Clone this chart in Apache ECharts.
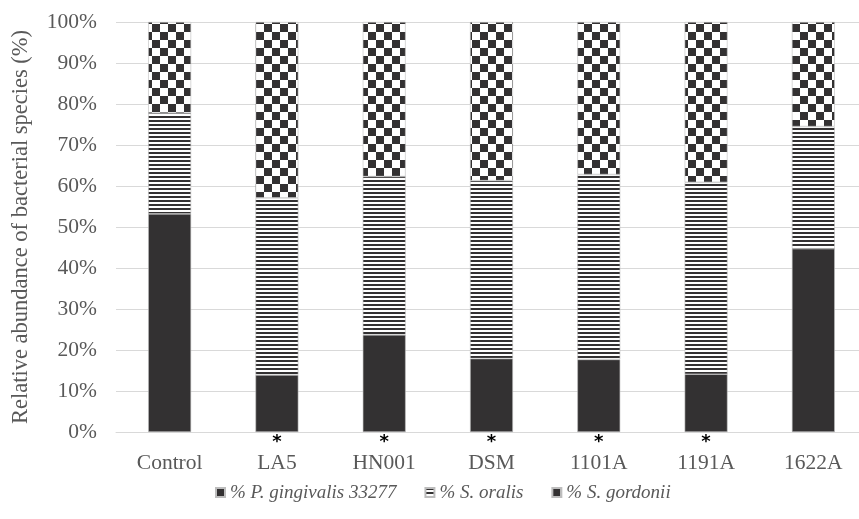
<!DOCTYPE html>
<html><head><meta charset="utf-8">
<script src="https://cdn.jsdelivr.net/npm/echarts@6/dist/echarts.min.js"></script>
<style>html,body{margin:0;padding:0;background:#fff;overflow:hidden}#c{width:880px;height:519px}</style>
</head><body><div id="c"></div>
<script>
const categories = ['Control','LA5','HN001','DSM','1101A','1191A','1622A'];
const significant = [false,true,true,true,true,true,false];
const pGingivalis = [53.2,13.9,23.7,17.9,17.7,14.1,44.7];
const sOralis = [24.6,43.2,38.6,43.4,45.1,46.8,29.8];
const sGordonii = [22.2,42.9,37.7,38.7,37.2,39.1,25.5];
const seriesNames = ['% P. gingivalis 33277','% S. oralis','% S. gordonii'];

const DARK = '#333132';
function checker(){
  const c=document.createElement('canvas');c.width=16;c.height=16;
  const g=c.getContext('2d');g.fillStyle='#fff';g.fillRect(0,0,16,16);
  g.fillStyle=DARK;g.fillRect(0,0,8,8);g.fillRect(8,8,8,8);return c;
}
function stripes(){
  const c=document.createElement('canvas');c.width=4;c.height=4;
  const g=c.getContext('2d');g.fillStyle='#fff';g.fillRect(0,0,4,4);
  g.fillStyle=DARK;g.fillRect(0,0,4,2);return c;
}
const fills=[DARK,{image:stripes(),repeat:'repeat'},{image:checker(),repeat:'repeat'}];
const dataSets=[pGingivalis,sOralis,sGordonii];

const chart=echarts.init(document.getElementById('c'),null,{renderer:'canvas'});
const font='"Liberation Serif","Times New Roman",serif';
chart.setOption({
  animation:false,
  textStyle:{fontFamily:font},
  grid:{left:116,top:22,width:751,height:410,containLabel:false},
  legend:{
    top:478,left:210,itemWidth:9,itemHeight:9,itemGap:28,icon:'rect',
    textStyle:{fontFamily:font,fontStyle:'italic',fontSize:19,color:'#595959'},
    data:seriesNames
  },
  xAxis:{
    type:'category',data:categories,
    axisLine:{lineStyle:{color:'#d9d9d9',width:1}},
    axisTick:{show:false},
    axisLabel:{
      margin:2,interval:0,
      formatter:function(v,i){return (significant[i]?'{star|*}':'{star| }')+'\n{name|'+v+'}';},
      rich:{
        star:{fontSize:18,fontWeight:'bold',color:'#000',lineHeight:16,fontFamily:'DejaVu Sans'},
        name:{fontSize:21.5,color:'#595959',lineHeight:26,fontFamily:font}
      }
    }
  },
  yAxis:{
    type:'value',min:0,max:100,interval:10,
    name:'Relative abundance of bacterial species (%)',
    nameLocation:'middle',nameGap:83,nameRotate:90,
    nameTextStyle:{fontSize:22.5,color:'#595959',fontFamily:font},
    axisLabel:{formatter:'{value}%',fontSize:21.5,color:'#595959',margin:19,fontFamily:font},
    splitLine:{lineStyle:{color:'#d9d9d9',width:1}},
    axisLine:{show:false},axisTick:{show:false}
  },
  series:dataSets.map((d,i)=>({
    name:seriesNames[i],type:'bar',stack:'total',data:d,barWidth:'40%',
    itemStyle:{color:fills[i],borderColor:'#bdbdbd',borderWidth:0.6}
  }))
});
</script></body></html>
